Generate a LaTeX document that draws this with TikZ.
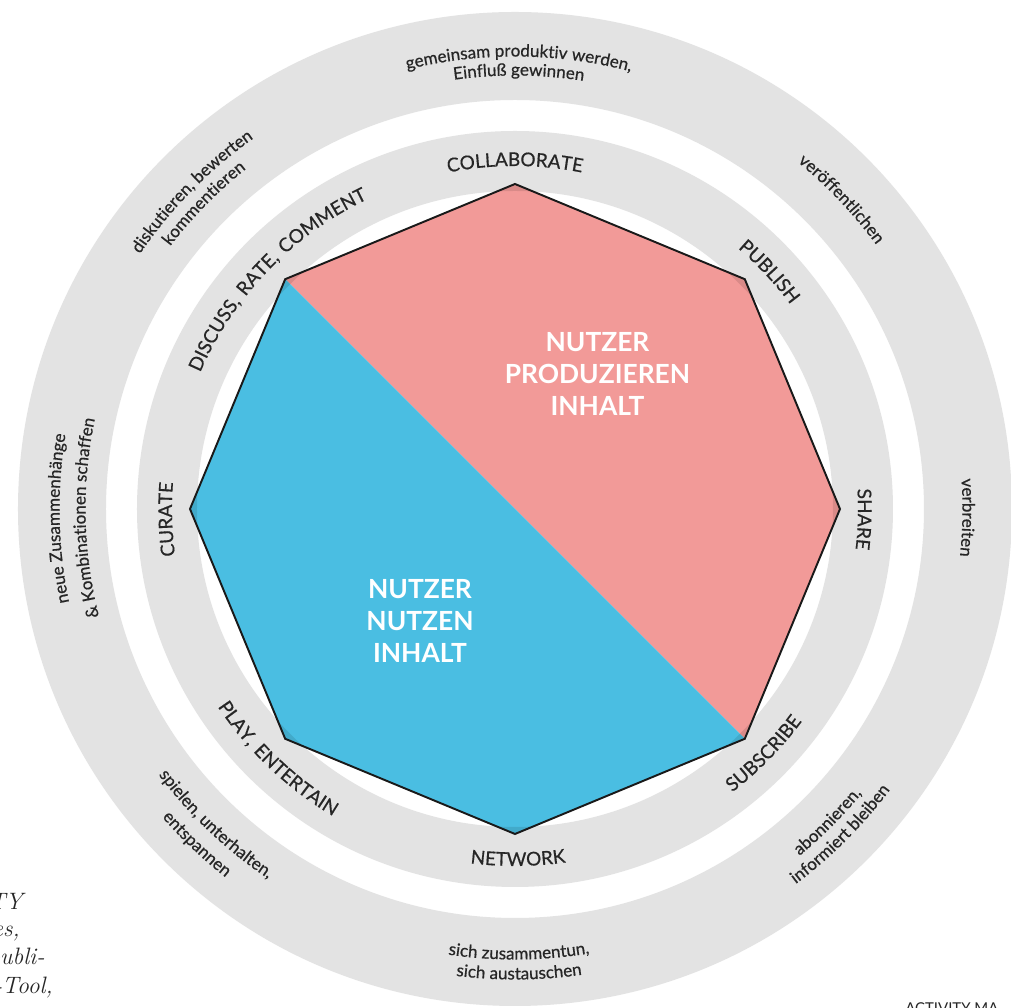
\documentclass[tikz,border=0pt]{standalone}
\usepackage{fontspec}
\usetikzlibrary{decorations.text}

\newfontfamily\ringfont[FakeBold=0.6]{Lato}
\newfontfamily\capfont[LetterSpace=11,FakeBold=0.5]{Lato}
\newfontfamily\plainfont{Lato}
\newcommand{\innerlabelfont}{\capfont\fontsize{10.8}{12}\selectfont}
\newcommand{\outerlabelfont}{\ringfont\fontsize{9.7}{11}\selectfont}

\definecolor{ringgray}{HTML}{E3E3E3}
\definecolor{userpink}{HTML}{F29A98}
\definecolor{userblue}{HTML}{4ABEE2}
\definecolor{labelgray}{HTML}{262626}

\newcommand{\cwlabel}[4]{%
  \path[decorate,decoration={text along path,text align=center,text color=labelgray,text={|#3|#4}}]
    (#2+90:#1) arc[start angle=#2+90,delta angle=-180,radius=#1];}
\newcommand{\ccwlabel}[4]{%
  \path[decorate,decoration={text along path,text align=center,text color=labelgray,text={|#3|#4}}]
    (#2-90:#1) arc[start angle=#2-90,delta angle=180,radius=#1];}

\begin{document}
\begin{tikzpicture}[
  ring/.style={fill=ringgray,even odd rule},
  octedge/.style={draw=black!90,line width=1.1pt,line join=miter},
  centertext/.style={text=white,font=\plainfont\bfseries\fontsize{15}{18.4}\selectfont,align=center},
  sidenote/.style={font=\itshape\fontsize{13.5}{16}\selectfont,anchor=base east,inner sep=0pt,text=black!85}
]
\path[use as bounding box,fill=white] (-10.30,-9.98) rectangle (9.92,10.18);

\fill[ring] (0,0) circle (9.94) (0,0) circle (8.18);
\fill[ring] (0,0) circle (7.56) (0,0) circle (6.36);

\coordinate (collaborate) at (90:6.5);
\coordinate (publish) at (45:6.5);
\coordinate (share) at (0:6.5);
\coordinate (subscribe) at (-45:6.5);
\coordinate (network) at (-90:6.5);
\coordinate (play) at (225:6.5);
\coordinate (curate) at (180:6.5);
\coordinate (discuss) at (135:6.5);

\fill[userpink] (discuss) -- (collaborate) -- (publish) -- (share) -- (subscribe) -- cycle;
\fill[userblue] (subscribe) -- (network) -- (play) -- (curate) -- (discuss) -- cycle;
\begin{scope}
  \clip (collaborate) -- (publish) -- (share) -- (subscribe) -- (network) -- (play) -- (curate) -- (discuss) -- cycle;
  \fill[black,opacity=0.1,even odd rule] (0,0) circle (7.56) (0,0) circle (6.36);
\end{scope}
\draw[octedge] (collaborate) -- (publish) -- (share) -- (subscribe) -- (network) -- (play) -- (curate) -- (discuss) -- cycle;

\node[centertext] (produce) at (1.65,2.70) {NUTZER\\PRODUZIEREN\\INHALT};
\node[centertext] (use) at (-1.90,-2.24) {NUTZER\\NUTZEN\\INHALT};

\cwlabel{6.86}{90}{\innerlabelfont}{COLLABORATE}
\cwlabel{6.86}{43}{\innerlabelfont}{PUBLISH}
\cwlabel{6.86}{-1.7}{\innerlabelfont}{SHARE}
\ccwlabel{7.14}{-44.5}{\innerlabelfont}{SUBSCRIBE}
\ccwlabel{7.14}{-89.5}{\innerlabelfont}{NETWORK}
\ccwlabel{7.14}{226.5}{\innerlabelfont}{PLAY, ENTERTAIN}
\cwlabel{6.86}{181.7}{\innerlabelfont}{CURATE}
\cwlabel{6.86}{136}{\innerlabelfont}{DISCUSS, RATE, COMMENT}

\cwlabel{9.05}{89.5}{\outerlabelfont}{gemeinsam produktiv werden,}
\cwlabel{8.67}{89.5}{\outerlabelfont}{Einfluß gewinnen}
\cwlabel{9.07}{135.5}{\outerlabelfont}{diskutieren, bewerten}
\cwlabel{8.67}{135.5}{\outerlabelfont}{kommentieren}
\cwlabel{8.95}{43.5}{\outerlabelfont}{veröffentlichen}
\cwlabel{8.95}{-1.1}{\outerlabelfont}{verbreiten}
\ccwlabel{8.97}{-45}{\outerlabelfont}{abonnieren,}
\ccwlabel{9.37}{-45}{\outerlabelfont}{informiert bleiben}
\ccwlabel{9.01}{-89.5}{\outerlabelfont}{sich zusammentun,}
\ccwlabel{9.41}{-89.5}{\outerlabelfont}{sich austauschen}
\ccwlabel{8.89}{226.5}{\outerlabelfont}{spielen, unterhalten,}
\ccwlabel{9.37}{226.5}{\outerlabelfont}{entspannen}
\cwlabel{9.11}{181.2}{\outerlabelfont}{neue Zusammenhänge}
\cwlabel{8.59}{181.2}{\outerlabelfont}{{\&} Kombinationen schaffen}

\node[sidenote] (noteA) at (-9.84,-8.02) {TY};
\node[sidenote] (noteB) at (-9.90,-8.56) {es,};
\node[sidenote] (noteC) at (-9.40,-9.12) {publi-};
\node[sidenote] (noteD) at (-9.24,-9.70) {e-Tool,};
\node[anchor=north west,inner sep=0pt,font=\plainfont\fontsize{8.5}{10}\selectfont,text=black!85] (caption) at (7.80,-9.86) {ACTIVITY MA};
\end{tikzpicture}
\end{document}
